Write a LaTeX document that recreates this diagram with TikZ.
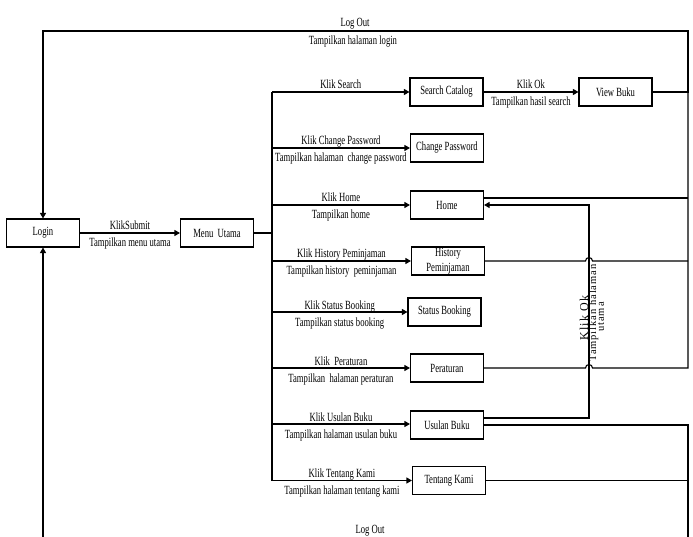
\documentclass[tikz,border=0pt]{standalone}
\usepackage{fontspec}
\setmainfont{Liberation Serif}[FakeStretch=0.69]
\newfontfamily\rotfont{Liberation Serif}[LetterSpace=9]
\usetikzlibrary{arrows.meta}
\begin{document}
\begin{tikzpicture}[x=1pt,y=-1pt,
  every node/.style={font=\fontsize{12.5}{14}\selectfont},
  box/.style={draw, line width=1.1pt, rectangle, minimum width=73pt, minimum height=28pt, inner sep=0pt, align=center},
  conn/.style={line width=1.1pt},
  arr/.style={conn, -{Triangle[length=5.5pt,width=6pt]}},
  la/.style={anchor=base, yshift=3pt, inner sep=0pt},
  lb/.style={anchor=base, yshift=-14pt, inner sep=0pt},
  rotlab/.style={rotate=90, inner sep=0pt}]
\useasboundingbox (0,0) rectangle (693,537);

% boxes
\node[box] (login) at (43,233) {Login};
\node[box] (menu) at (217,233) {Menu\ \ Utama};
\node[box] (search) at (446.5,92) {Search Catalog};
\node[box] (view) at (615.5,92) {View Buku};
\node[box] (change) at (447,148) {Change Password};
\node[box] (home) at (447,205) {Home};
\node[box, font=\fontsize{12.5}{15}\selectfont] (history) at (448,261) {History\\Peminjaman};
\node[box] (status) at (444.5,312) {Status Booking};
\node[box] (aturan) at (447,368) {Peraturan};
\node[box] (usulan) at (447,425) {Usulan Buku};
\node[box] (tentang) at (449,480.5) {Tentang Kami};

% bus coordinates
\coordinate (bm) at (272,233);
\coordinate (b1) at (272,92);
\coordinate (b2) at (272,148);
\coordinate (b3) at (272,205);
\coordinate (b4) at (272,261);
\coordinate (b5) at (272,312);
\coordinate (b6) at (272,368);
\coordinate (b7) at (272,424);
\coordinate (b8) at (272,480.5);
\coordinate (rt) at (688,31);
\coordinate (lt) at (43,31);
\coordinate (rb) at (688,545);
\coordinate (lb) at (43,545);

% login -> menu
\draw[arr] (login) -- node[la]{KlikSubmit} node[lb]{Tampilkan menu utama} (menu);
\draw[conn, line width=1.7pt] (menu.east) -- (bm);
\draw[conn] (b1) -- (b8);

% branches
\draw[arr] (b1) -- node[la]{Klik Search} (b1 -| search.west);
\draw[arr] (b2) -- node[la]{Klik Change Password} node[lb]{Tampilkan halaman\ \ change password} (b2 -| change.west);
\draw[arr] (b3) -- node[la]{Klik Home} node[lb]{Tampilkan home} (b3 -| home.west);
\draw[arr] (b4) -- node[la]{Klik History Peminjaman} node[lb]{Tampilkan history\ \ peminjaman} (b4 -| history.west);
\draw[arr] (b5) -- node[la]{Klik Status Booking} node[lb]{Tampilkan status booking} (b5 -| status.west);
\draw[arr] (b6) -- node[la]{Klik\ \ Peraturan} node[lb]{Tampilkan\ \ halaman peraturan} (b6 -| aturan.west);
\draw[arr] (b7) -- node[la]{Klik Usulan Buku} node[lb]{Tampilkan halaman usulan buku} (b7 -| usulan.west);
\draw[arr] (b8) -- node[la]{Klik Tentang Kami} node[lb]{Tampilkan halaman tentang kami} (b8 -| tentang.west);

% search -> view
\draw[arr] (search) -- node[la]{Klik Ok} node[lb]{Tampilkan hasil search} (view);

% log out (top)
\draw[arr] (view.east) -- (688,92) -- (rt) -- (lt) -- (login);
\node (lo1) at (355,24) {Log Out};
\node (lo2) at (353,42) {Tampilkan halaman login};
\draw[conn] ([yshift=7pt]home.east) -- (688,198);
\draw[conn] (history.east) -- (585.5,261) arc[start angle=180, end angle=0, radius=3.5pt] -- (688,261);
\draw[conn] (aturan.east) -- (585.5,368) arc[start angle=180, end angle=0, radius=3.5pt] -- (688,368) -- (688,92);

% usulan -> home
\draw[arr] ([yshift=7pt]usulan.east) -- (589,418) -- (589,205) -- (home.east);
\node[rotlab, font=\rotfont\fontsize{12}{12}\selectfont] (ok1) at (584,318) {Klik Ok};
\node[rotlab, font=\rotfont\fontsize{10.5}{12}\selectfont] (ok2) at (593.5,313) {Tampilkan halaman};
\node[rotlab, font=\rotfont\fontsize{10.5}{12}\selectfont] (ok3) at (601,317) {utama};

% log out (bottom)
\draw[arr] (usulan.east) -- (688,425) -- (rb) -- (lb) -- (login);
\draw[conn] (tentang.east) -- (688,480.5);
\node (lo3) at (370,531) {Log Out};
\end{tikzpicture}
\end{document}
